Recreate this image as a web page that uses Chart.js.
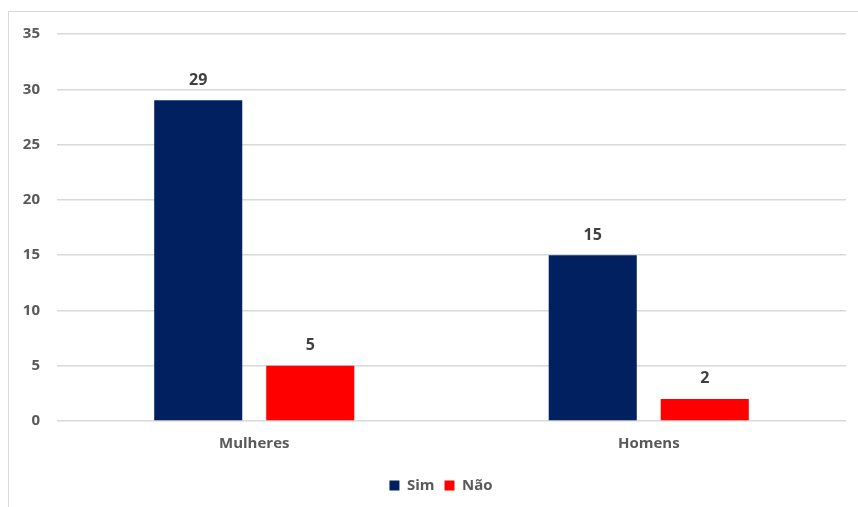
<!DOCTYPE html>
<html>
<head>
<meta charset="utf-8">
<script src="https://cdn.jsdelivr.net/npm/chart.js@4.4.1/dist/chart.umd.min.js"></script>
<style>
  html, body { margin: 0; padding: 0; background: #fff; }
  #wrap { position: relative; width: 858px; height: 507px; overflow: hidden; }
  #frame { position: absolute; left: 8px; top: 11px; width: 900px; height: 600px; border: 1px solid #d9d9d9; box-sizing: border-box; }
  canvas { position: absolute; left: 0; top: 0; }
</style>
</head>
<body>
<div id="wrap">
  <div id="frame"></div>
  <canvas id="c" width="858" height="507"></canvas>
</div>
<script>
const categories = ["Mulheres", "Homens"];
const simValues = [29, 15];
const naoValues = [5, 2];
const seriesNames = ["Sim", "Não"];
const yTicks = [0, 5, 10, 15, 20, 25, 30, 35];

const FONT = "'Open Sans', 'Liberation Sans', sans-serif";

const valueLabels = {
  id: 'valueLabels',
  afterDatasetsDraw(chart) {
    const ctx = chart.ctx;
    ctx.save();
    ctx.font = "bold 16px " + FONT;
    ctx.fillStyle = '#404040';
    ctx.textAlign = 'center';
    ctx.textBaseline = 'bottom';
    chart.data.datasets.forEach((ds, i) => {
      chart.getDatasetMeta(i).data.forEach((bar, j) => {
        ctx.fillText(String(ds.data[j]), bar.x, bar.y - 12);
      });
    });
    ctx.restore();
  }
};

const legendShift = {
  id: 'legendShift',
  afterLayout(chart) {
    const lg = chart.legend;
    if (lg) { lg.left += 18; lg.right += 18; }
  }
};

new Chart(document.getElementById('c'), {
  type: 'bar',
  data: {
    labels: categories,
    datasets: [
      { label: seriesNames[0], data: simValues, backgroundColor: '#002060',
        barPercentage: 0.786, categoryPercentage: 0.568 },
      { label: seriesNames[1], data: naoValues, backgroundColor: '#ff0000',
        barPercentage: 0.786, categoryPercentage: 0.568 }
    ]
  },
  options: {
    responsive: false,
    animation: false,
    layout: { padding: { left: 0, right: 12, top: 34, bottom: 4 } },
    plugins: {
      legend: {
        position: 'bottom',
        labels: {
          boxWidth: 10, boxHeight: 10, padding: 10,
          color: '#595959',
          font: { family: FONT, size: 15, weight: 'bold' }
        }
      },
      tooltip: { enabled: false }
    },
    scales: {
      x: {
        grid: { display: false, drawTicks: false },
        border: { display: false },
        ticks: { color: '#595959', padding: 14, font: { family: FONT, size: 15, weight: 'bold' } },
        afterFit(s) { s.height = 47; }
      },
      y: {
        min: 0, max: 35,
        afterBuildTicks(s) { s.ticks = yTicks.map(v => ({ value: v })); },
        grid: { color: '#d9d9d9', lineWidth: 1.5, drawTicks: false },
        border: { display: false },
        ticks: { color: '#595959', padding: 17, font: { family: FONT, size: 15, weight: 'bold' } },
        afterFit(s) { s.width = 57; }
      }
    }
  },
  plugins: [valueLabels, legendShift]
});
</script>
</body>
</html>
